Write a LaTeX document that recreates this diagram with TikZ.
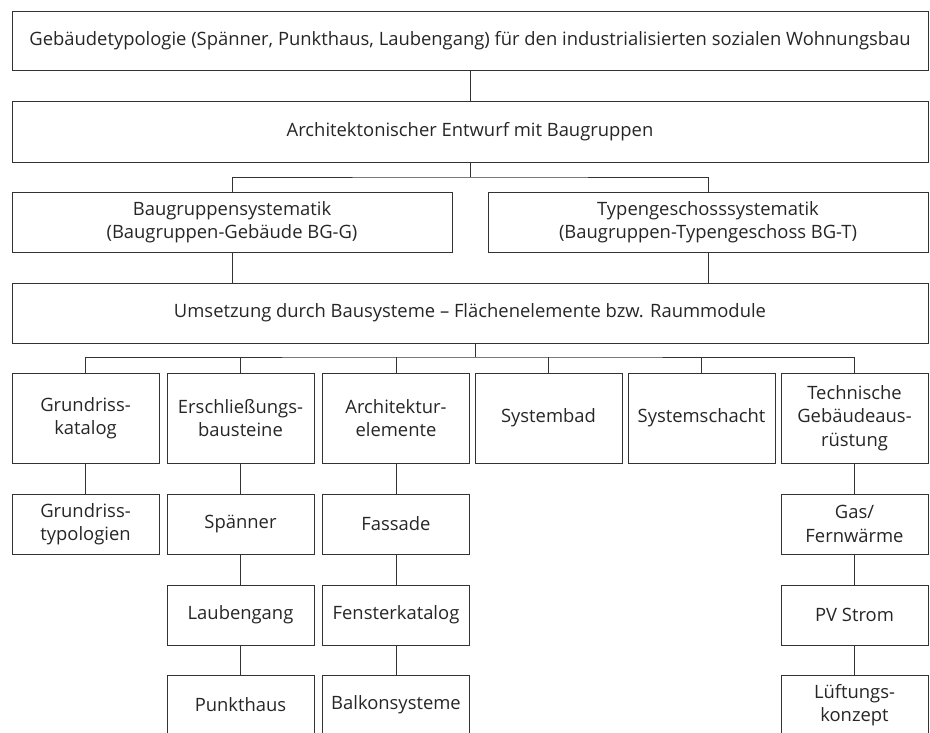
\documentclass[tikz,border=0pt]{standalone}
\usepackage{fontspec}
\setmainfont{Open Sans}
\begin{document}
\begin{tikzpicture}[x=1pt,y=-1pt,
  box/.style={draw=black!80,line width=0.9pt,text=black!85,align=center,inner sep=0pt,
    font=\fontsize{18.4}{23.5}\selectfont},
  wide/.style={box,minimum width=916pt,minimum height=60pt},
  half/.style={box,minimum width=440pt,minimum height=60pt},
  tall/.style={box,minimum width=147pt,minimum height=90pt},
  small/.style={box,minimum width=147pt,minimum height=60pt},
  link/.style={draw=black!80,line width=0.9pt}]
\useasboundingbox (0,0) rectangle (930,732);
\node[wide,minimum height=59pt] (top) at (470,40.5) {Gebäudetypologie (Spänner, Punkthaus, Laubengang) für den industrialisierten sozialen Wohnungsbau};
\node[wide,minimum height=61pt] (arch) at (470,131.5) {Architektonischer Entwurf mit Baugruppen};
\node[half] (bgg) at (232,222) {Baugruppensystematik\\(Baugruppen-Gebäude BG-G)};
\node[half] (bgt) at (708,222) {Typengeschosssystematik\\(Baugruppen-Typengeschoss BG-T)};
\node[wide] (ums) at (470,313) {Umsetzung durch Bausysteme – Flächenelemente bzw. Raummodule};
% row 5
\node[tall] (c1) at (85.5,418) {Grundriss-\\katalog};
\node[tall] (c2) at (240.5,418) {Erschließungs-\\bausteine};
\node[tall] (c3) at (396,418) {Architektur-\\elemente};
\node[tall] (c4) at (548.5,418) {Systembad};
\node[tall] (c5) at (701.5,418) {Systemschacht};
\node[tall] (c6) at (854.5,418) {Technische\\Gebäudeaus-\\rüstung};
% row 6
\node[small] (c1a) at (85.5,524) {Grundriss-\\typologien};
\node[small] (c2a) at (240.5,524) {Spänner};
\node[small] (c3a) at (396,524) {Fassade};
\node[small] (c6a) at (854.5,524) {Gas/\\Fernwärme};
% row 7
\node[small] (c2b) at (240.5,615) {Laubengang};
\node[small] (c3b) at (396,615) {Fensterkatalog};
\node[small] (c6b) at (854.5,615) {PV Strom};
% row 8
\node[small] (c2c) at (240.5,705) {Punkthaus};
\node[small] (c3c) at (396,705) {Balkonsysteme};
\node[small] (c6c) at (854.5,705) {Lüftungs-\\konzept};
% connectors
\coordinate (bus1) at (470,177);
\coordinate (bus2) at (475,357);
\draw[link] (top.south) -- (arch.north);
\draw[link] (arch.south) -- (bus1);
\draw[link] (bgg.north) |- (bus1) -| (bgt.north);
\draw[link] (bgg.south) -- (bgg.south |- ums.north);
\draw[link] (bgt.south) -- (bgt.south |- ums.north);
\draw[link] (bus2 |- ums.south) -- (bus2);
\draw[link] (c1.north) |- (bus2) -| (c6.north);
\foreach \c in {c2,c3,c4,c5} \draw[link] (\c.north) -- (\c.north |- bus2);
\draw[link] (c1) -- (c1a);
\draw[link] (c2) -- (c2a);
\draw[link] (c2a) -- (c2b);
\draw[link] (c2b) -- (c2c);
\draw[link] (c3) -- (c3a);
\draw[link] (c3a) -- (c3b);
\draw[link] (c3b) -- (c3c);
\draw[link] (c6) -- (c6a);
\draw[link] (c6a) -- (c6b);
\draw[link] (c6b) -- (c6c);
\end{tikzpicture}
\end{document}
